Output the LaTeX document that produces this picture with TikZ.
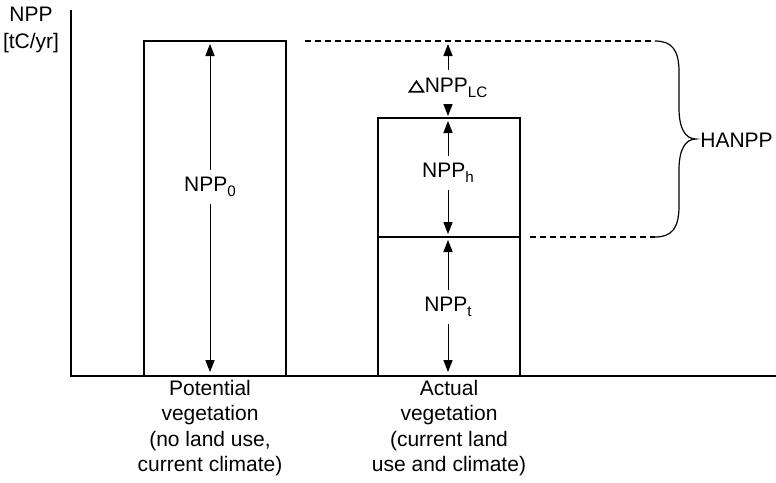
\documentclass[tikz,border=0pt]{standalone}
\usepackage{fontspec}
\setmainfont{Liberation Sans}
\usetikzlibrary{arrows.meta}
\newcommand{\mysub}[1]{\raisebox{-2.6pt}{\fontsize{7.6}{8}\selectfont #1}}
\newcommand{\mytri}{\tikz[baseline=0pt,x=1pt,y=1pt]\draw[line width=0.8pt,line join=miter] (0,0.4)--(7,0.4)--(3.5,5.6)--cycle;\hspace{0.3pt}}
\begin{document}
\begin{tikzpicture}[x=0.5pt,y=-0.5pt,
  every node/.style={font=\fontsize{10.5}{12.6}\selectfont, inner sep=0pt},
  lab/.style={inner xsep=0pt, inner ysep=3.5pt},
  bar/.style={draw, line width=0.9pt},
  axis/.style={line width=1pt},
  arr/.style={-{Triangle[length=6pt,width=4.6pt]}, line width=0.5pt},
  dashline/.style={dash pattern=on 3pt off 2pt, line width=0.6pt},
  captext/.style={align=center, anchor=north}]
\useasboundingbox (0,0) rectangle (776,482);
% axes
\coordinate (ytop) at (71,10);
\coordinate (orig) at (71,376);
\coordinate (xend) at (776,376);
\draw[axis] (ytop) -- (orig) -- (xend);
\node[align=center] (ylab) at (31,30) {NPP\\[1pt][tC/yr]};
% potential box
\draw[bar] (144,376) rectangle (286,41);
\node[lab] (n0) at (210,187) {NPP\mysub{0}};
\coordinate (n0top) at (210,44);
\coordinate (n0bot) at (210,372);
\draw[arr] (n0.north) -- (n0top);
\draw[arr] (n0.south) -- (n0bot);
% actual box
\draw[bar] (378,376) rectangle (520,118);
\draw[bar] (378,237) -- (520,237);
\node[lab,inner ysep=4pt] (nlc) at (448,88) {\mytri NPP\mysub{LC}};
\coordinate (lctop) at (448,44);
\coordinate (lcbot) at (448,116);
\draw[arr] (nlc.north) -- (lctop);
\draw[arr] (nlc.south) -- (lcbot);
\node[lab] (nh) at (448,173) {NPP\mysub{h}};
\coordinate (htop) at (448,121);
\coordinate (hbot) at (448,234);
\draw[arr] (nh.north) -- (htop);
\draw[arr] (nh.south) -- (hbot);
\node[lab] (nt) at (448,307) {NPP\mysub{t}};
\coordinate (ttop) at (448,240);
\coordinate (tbot) at (448,372);
\draw[arr] (nt.north) -- (ttop);
\draw[arr] (nt.south) -- (tbot);
% dashed lines
\coordinate (d1a) at (305,41);
\coordinate (d1b) at (655,41);
\coordinate (d2a) at (530,237);
\coordinate (d2b) at (655,237);
\draw[dashline] (d1a) -- (d1b);
\draw[dashline] (d2a) -- (d2b);
% brace
\coordinate (tip) at (696,139);
\draw[line width=0.6pt] (d1b) .. controls (672,41) and (679,50) .. (679,72) -- (679,108)
  .. controls (679,128) and (685,139) .. (tip)
  .. controls (685,139) and (679,150) .. (679,170) -- (679,206)
  .. controls (679,228) and (672,237) .. (d2b);
\node[anchor=west] (hanpp) at (700,140) {HANPP};
% captions
\node[captext] (c1) at (210,380) {Potential\\vegetation\\(no land use,\\current climate)};
\node[captext] (c2) at (449,380) {Actual\\vegetation\\(current land\\use and climate)};
\end{tikzpicture}
\end{document}
